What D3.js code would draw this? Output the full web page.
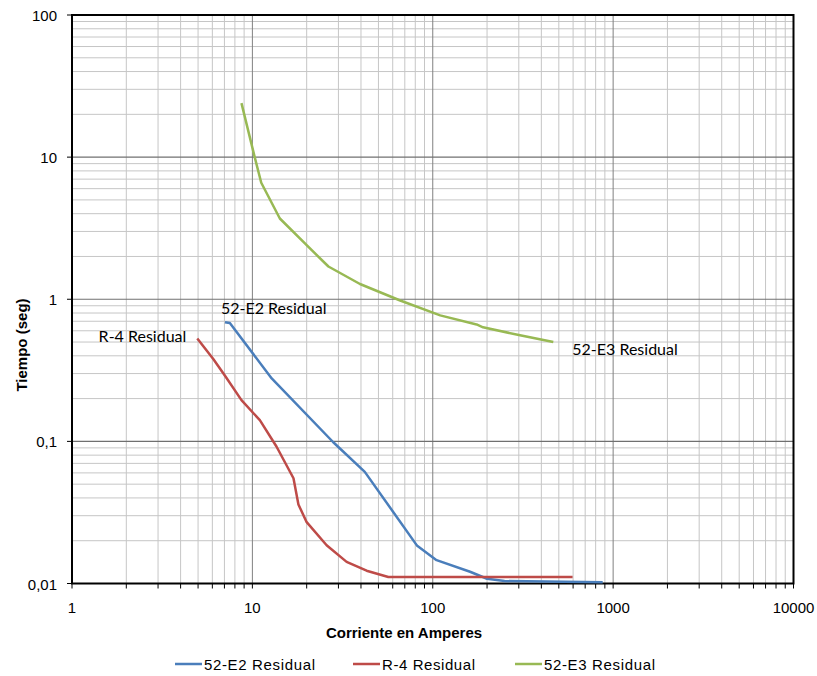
<!DOCTYPE html>
<html>
<head>
<meta charset="utf-8">
<script src="https://cdn.jsdelivr.net/npm/d3@7"></script>
<style>
  body { margin: 0; background: #fff; }
  svg { display: block; font-family: "Liberation Sans", Arial, sans-serif; }
</style>
</head>
<body>
<div class="chart"></div>
<script>
// series names
var seriesNames = ["52-E2 Residual", "R-4 Residual", "52-E3 Residual"];
var seriesColors = ["#4a7ebb", "#be4b48", "#98b954"];

// [corriente (A), tiempo (s)]
var e2Residual = [[7.05, 0.69], [7.5, 0.68], [12.8, 0.277], [28, 0.099], [42, 0.061], [82, 0.0184],
  [105, 0.0146], [161, 0.0121], [200, 0.0108], [250, 0.0104], [875, 0.0102]];
var r4Residual = [[4.95, 0.53], [6.07, 0.38], [7.05, 0.29], [8.7, 0.195], [11, 0.141], [13.6, 0.092],
  [16.9, 0.055], [18, 0.036], [20, 0.027], [25.8, 0.0186], [33.3, 0.0142], [43, 0.0123],
  [56.7, 0.0111], [596, 0.0111]];
var e3Residual = [[8.7, 24], [10.3, 10], [11.2, 6.6], [14.2, 3.7], [20, 2.4], [26.4, 1.7], [39.5, 1.28],
  [66, 0.98], [110, 0.77], [175, 0.665], [190, 0.635], [300, 0.56], [466, 0.5]];

var xTicks = [1, 10, 100, 1000, 10000];
var xTickLabels = ["1", "10", "100", "1000", "10000"];
var yTicks = [0.01, 0.1, 1, 10, 100];
var yTickLabels = ["0,01", "0,1", "1", "10", "100"];

var width = 817, height = 676;
var plotL = 72, plotT = 15, plotR = 793.5, plotB = 583.5;

var x = d3.scaleLog().domain([1, 10000]).range([plotL, plotR]);
var y = d3.scaleLog().domain([0.01, 100]).range([plotB, plotT]);

var svg = d3.select('.chart')
  .append('svg')
  .attr('width', width)
  .attr('height', height);

// minor values 2..9 of each decade
function minors(lo, hi) {
  var out = [];
  for (var d = lo; d < hi * 0.999; d *= 10) {
    for (var k = 2; k <= 9; k++) out.push(d * k);
  }
  return out;
}
var xMinor = minors(1, 10000);
var yMinor = minors(0.01, 100);

// grid
var grid = svg.append('g');
grid.selectAll('.vmin').data(xMinor).enter().append('line')
  .attr('x1', d => x(d)).attr('x2', d => x(d))
  .attr('y1', plotT).attr('y2', plotB)
  .attr('stroke', '#c6c6c6').attr('stroke-width', 1);
grid.selectAll('.hmin').data(yMinor).enter().append('line')
  .attr('x1', plotL).attr('x2', plotR)
  .attr('y1', d => y(d)).attr('y2', d => y(d))
  .attr('stroke', '#c6c6c6').attr('stroke-width', 1);
grid.selectAll('.vmaj').data(xTicks).enter().append('line')
  .attr('x1', d => x(d)).attr('x2', d => x(d))
  .attr('y1', plotT).attr('y2', plotB)
  .attr('stroke', '#808080').attr('stroke-width', 1);
grid.selectAll('.hmaj').data(yTicks).enter().append('line')
  .attr('x1', plotL).attr('x2', plotR)
  .attr('y1', d => y(d)).attr('y2', d => y(d))
  .attr('stroke', '#707070').attr('stroke-width', 1.2);

// frame
svg.append('rect')
  .attr('x', plotL).attr('y', plotT)
  .attr('width', plotR - plotL).attr('height', plotB - plotT)
  .attr('fill', 'none').attr('stroke', '#000').attr('stroke-width', 2);

// x ticks (major + minor)
svg.selectAll('.xt').data(xTicks.concat(xMinor)).enter().append('line')
  .attr('x1', d => x(d)).attr('x2', d => x(d))
  .attr('y1', plotB).attr('y2', plotB + 5)
  .attr('stroke', '#000').attr('stroke-width', 1);
svg.selectAll('.yt').data(yTicks).enter().append('line')
  .attr('x1', plotL - 5).attr('x2', plotL)
  .attr('y1', d => y(d)).attr('y2', d => y(d))
  .attr('stroke', '#000').attr('stroke-width', 1);

// tick labels
svg.selectAll('.xl').data(xTicks).enter().append('text')
  .attr('x', d => x(d)).attr('y', 613)
  .attr('text-anchor', 'middle')
  .attr('font-size', 15).attr('fill', '#000')
  .text((d, i) => xTickLabels[i]);
svg.selectAll('.yl').data(yTicks).enter().append('text')
  .attr('x', 57).attr('y', d => y(d) + 6)
  .attr('text-anchor', 'end')
  .attr('font-size', 15).attr('fill', '#000')
  .text((d, i) => yTickLabels[i]);

// axis titles
svg.append('text')
  .attr('x', 404).attr('y', 638)
  .attr('text-anchor', 'middle')
  .attr('font-size', 15).attr('font-weight', 'bold')
  .text('Corriente en Amperes');
svg.append('text')
  .attr('transform', 'translate(27,345) rotate(-90)')
  .attr('text-anchor', 'middle')
  .attr('font-size', 15).attr('font-weight', 'bold')
  .text('Tiempo (seg)');

// series
var line = d3.line()
  .x(d => x(d[0]))
  .y(d => y(d[1]));

var allSeries = [e2Residual, r4Residual, e3Residual];
svg.append('g').selectAll('path')
  .data(allSeries)
  .enter()
  .append('path')
  .attr('d', line)
  .attr('fill', 'none')
  .attr('stroke', (d, i) => seriesColors[i])
  .attr('stroke-width', 2.5)
  .attr('stroke-linejoin', 'round');

// data labels
var lblFont = 'Lato, "Open Sans", sans-serif';
svg.append('text')
  .attr('x', x(e2Residual[0][0]) - 4).attr('y', y(e2Residual[0][1]) - 8)
  .attr('font-family', lblFont).attr('font-size', 16)
  .text(seriesNames[0]);
svg.append('text')
  .attr('x', x(r4Residual[0][0]) - 11).attr('y', y(r4Residual[0][1]) + 4)
  .attr('text-anchor', 'end')
  .attr('font-family', lblFont).attr('font-size', 16)
  .text(seriesNames[1]);
svg.append('text')
  .attr('x', x(e3Residual[e3Residual.length - 1][0]) + 19).attr('y', y(e3Residual[e3Residual.length - 1][1]) + 13)
  .attr('font-family', lblFont).attr('font-size', 16)
  .text(seriesNames[2]);

// legend
var legendX = [175, 353, 515];
var legend = svg.append('g').selectAll('g')
  .data(seriesNames)
  .enter()
  .append('g')
  .attr('transform', (d, i) => 'translate(' + legendX[i] + ',664)');
legend.append('line')
  .attr('x1', 0).attr('x2', 27)
  .attr('stroke', (d, i) => seriesColors[i])
  .attr('stroke-width', 2.5);
legend.append('text')
  .attr('x', 29).attr('y', 5.5)
  .attr('font-size', 15)
  .attr('textLength', d => d === 'R-4 Residual' ? 93 : 111)
  .text(d => d);
</script>
</body>
</html>
